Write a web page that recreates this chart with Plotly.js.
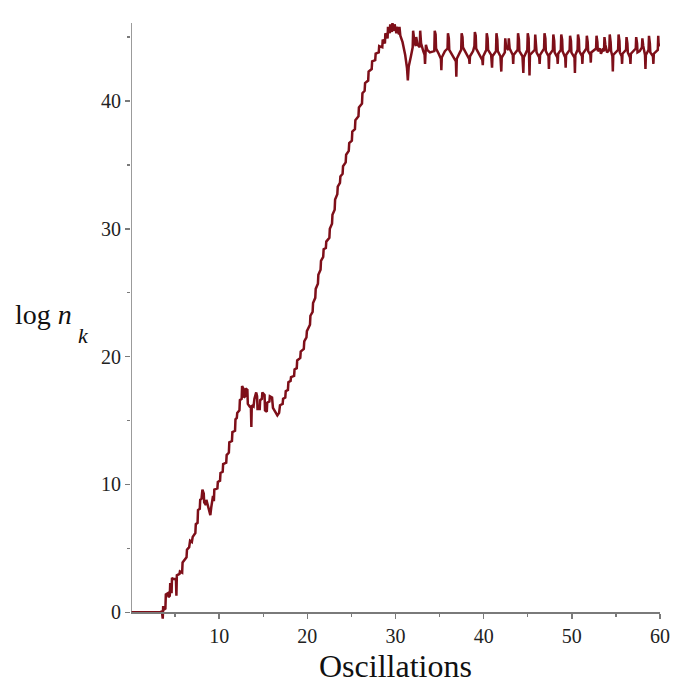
<!DOCTYPE html>
<html>
<head>
<meta charset="utf-8">
<script src="https://cdn.plot.ly/plotly-3.0.1.min.js"></script>
<style>html,body{margin:0;padding:0;background:#fff;}</style>
</head>
<body>
<div id="chart" style="width:679px;height:697px;"></div>
<script>
// Oscillation count (x) and log n_k (y)
const oscillations = [
0,3.4,3.5,3.6,3.65,3.7,3.9,3.95,4.2,4.25,4.4,4.45,4.6,4.65,4.8,5.0,5.1,5.15,5.2,5.5,5.55,5.8,5.85,6.1,
6.3,6.35,6.6,6.7,6.9,7.0,7.3,7.35,7.55,7.6,7.8,7.85,8.0,8.1,8.25,8.3,8.5,8.55,8.8,9.0,9.1,9.3,9.4,9.45,9.8,9.85,
10.1,10.15,10.4,10.45,10.8,10.85,11.1,11.15,11.45,11.5,11.8,11.85,12.0,12.05,12.3,12.35,12.55,12.6,12.75,12.8,12.95,13.0,
13.2,13.25,13.45,13.6,13.65,13.7,13.9,14.0,14.2,14.3,14.35,14.6,14.65,14.85,14.9,15.15,15.2,15.4,15.45,15.7,15.75,16.0,
16.1,16.4,16.6,16.8,16.9,17.2,17.25,17.5,17.55,17.8,17.85,18.1,18.15,18.5,18.55,18.8,18.85,19.2,19.25,19.6,19.65,19.9,
19.95,20.3,20.35,20.6,20.65,20.9,20.95,21.2,21.25,21.5,21.55,21.8,21.85,22.1,22.15,22.5,22.55,22.8,22.85,23.1,23.15,
23.4,23.45,23.7,23.75,24.0,24.05,24.35,24.4,24.7,24.75,25.05,25.1,25.4,25.45,25.8,25.85,26.2,26.25,26.5,26.55,26.9,
26.95,27.3,27.35,27.7,27.75,28.1,28.15,28.5,28.55,28.8,28.85,29.1,29.15,29.35,29.4,29.6,29.65,29.85,29.9,30.1,30.15,
30.4,30.45,30.55,30.8,31.1,31.3,31.4,31.5,31.75,31.95,32.0,32.15,32.3,32.35,32.5,32.75,32.8,32.9,33.15,33.3,33.35,
33.45,33.6,33.9,
34.4,34.45,34.55,34.6,34.9,35.15,35.2,35.25,35.6,35.9,35.95,36.05,36.1,36.5,36.85,36.9,36.95,37.3,37.45,37.5,37.6,
37.65,38.0,38.35,38.4,38.45,38.8,38.95,39.0,39.1,39.15,39.5,39.85,39.9,39.95,40.3,40.35,40.45,40.5,40.85,40.95,41.0,
41.4,41.45,41.55,41.6,41.9,42.0,42.05,42.4,42.45,42.55,42.8,42.85,42.95,43.3,43.35,43.4,43.85,43.9,44.0,44.05,44.4,
44.5,44.55,44.95,45.0,45.1,45.15,45.2,45.25,45.8,45.85,45.95,46.0,46.3,46.35,46.4,46.85,46.9,47.0,47.05,47.35,47.4,
47.45,47.85,47.9,48.0,48.05,48.35,48.4,48.45,48.75,48.8,48.9,48.95,49.25,49.3,49.35,49.75,49.8,49.9,49.95,50.3,50.35,
50.4,50.65,50.7,50.8,50.85,51.15,51.2,51.25,51.65,51.7,51.8,51.85,52.1,52.15,52.2,52.75,52.8,52.9,52.95,53.2,53.3,
53.5,53.65,53.7,53.8,54.0,54.25,54.3,54.4,54.45,54.6,54.65,54.7,55.25,55.3,55.4,55.45,55.65,55.7,55.75,56.15,56.2,
56.3,56.35,56.6,56.65,56.7,57.25,57.3,57.4,57.45,57.7,57.95,58.0,58.1,58.3,58.35,58.4,58.7,58.75,58.85,58.9,59.2,
59.25,59.3,59.75,59.8,59.85,60.0
];
const logNk = [
0,0,0.1,-0.5,0.5,0.2,0.3,1.4,1.5,1.2,1.3,2.3,1.5,2.7,2.6,2.6,2.5,1.3,2.9,3.0,3.2,3.1,3.9,4.1,
4.3,4.9,5.1,5.6,5.5,5.9,6.2,6.9,7.0,8.0,8.1,8.8,8.9,9.6,9.3,8.6,8.4,8.8,8.0,7.6,8.2,9.1,8.7,9.6,9.7,10.2,
10.3,10.9,11.0,11.6,11.7,12.3,12.5,13.3,13.4,14.1,14.2,15.1,15.2,15.6,15.8,16.6,16.7,17.7,17.5,16.8,16.9,17.5,
17.4,16.3,16.1,16.0,14.5,16.2,16.1,16.7,17.2,16.9,15.9,15.9,16.6,16.7,17.2,17.0,15.8,15.7,16.4,16.5,16.9,16.8,
16.0,15.6,15.4,15.6,16.2,16.3,16.7,16.8,17.3,17.4,18.0,18.1,18.4,18.5,19.0,19.1,19.7,19.9,20.4,20.6,21.2,21.5,
22.0,22.5,23.2,23.5,24.2,24.6,25.3,25.7,26.4,26.8,27.5,27.8,28.4,28.5,29.0,29.3,30.0,30.4,31.1,31.5,32.3,
32.7,33.3,33.6,34.1,34.3,34.9,35.2,35.8,36.1,36.7,36.9,37.6,37.8,38.5,38.8,39.5,39.8,40.6,40.8,41.4,41.6,
42.3,42.5,43.1,43.2,43.7,43.8,44.3,44.2,44.8,44.5,45.3,44.9,45.8,45.3,46.0,45.4,46.1,45.5,46.0,45.3,45.8,
45.2,45.8,45.1,44.6,43.6,42.6,41.6,42.7,43.5,44.2,45.5,44.6,44.3,45.0,44.4,44.2,45.5,44.5,43.9,43.6,42.9,
44.4,44.0,43.8,
43.9,45.5,45.2,44.1,43.7,43.3,42.4,43.4,43.9,44.1,45.3,44.9,44.0,43.5,43.1,41.9,43.3,43.8,44.0,45.3,45.0,
44.2,43.7,43.3,42.9,43.5,43.9,44.3,45.4,45.1,44.1,43.6,43.2,42.8,43.5,44.0,45.3,44.9,44.0,43.6,42.6,43.5,
43.9,45.3,44.8,43.9,43.5,42.3,43.4,43.8,44.9,44.2,44.0,44.9,44.1,43.6,42.9,43.6,44.0,45.3,44.8,43.9,43.5,
42.2,43.4,44.0,45.3,44.9,43.9,42.0,43.6,44.0,45.2,44.6,43.8,43.4,42.9,43.6,44.1,45.3,44.9,43.9,43.5,42.5,
43.6,44.0,45.2,44.7,43.8,43.4,42.9,43.7,44.0,45.2,44.8,43.9,43.4,42.6,43.6,44.0,45.1,44.7,43.8,43.4,42.2,
43.6,44.0,45.2,44.8,43.9,43.5,42.9,43.7,44.1,45.1,44.6,43.9,43.6,43.0,43.8,44.1,45.1,44.6,43.9,44.1,43.7,
44.0,43.9,45.0,44.4,43.8,44.0,45.2,44.6,43.9,43.5,42.3,43.6,44.0,45.2,44.7,43.8,43.5,42.9,43.7,44.0,45.0,
44.5,43.8,43.4,42.9,43.7,44.1,45.0,44.5,43.8,43.9,44.2,44.9,44.3,43.6,42.5,43.6,44.0,45.1,44.5,43.8,43.5,
42.9,43.7,44.0,45.1,44.3,44.5
];
const xTickVals = [10,20,30,40,50,60];
const xMinorVals = [5,15,25,35,45,55];
const yTickVals = [0,10,20,30,40];
const yMinorVals = [5,15,25,35,45];

const axisColor = '#7a7a7a';
const serif = 'Liberation Serif, Times New Roman, serif';

const trace = {
  x: oscillations, y: logNk, type: 'scatter', mode: 'lines',
  line: {color: '#7e0f19', width: 2.5}, hoverinfo: 'skip'
};

const yMin = -0.6, yMax = 46.1;
const layout = {
  width: 679, height: 697,
  margin: {l: 131, r: 19, t: 23, b: 77},
  paper_bgcolor: '#ffffff', plot_bgcolor: '#ffffff',
  showlegend: false,
  xaxis: {
    range: [0, 60], anchor: 'free', position: (0 - yMin) / (yMax - yMin),
    showline: true, linecolor: axisColor, linewidth: 1.5,
    showgrid: false, zeroline: false,
    tickmode: 'array', tickvals: xTickVals, ticktext: xTickVals.map(String),
    ticks: 'outside', ticklen: 5, tickwidth: 1.5, tickcolor: axisColor,
    minor: {tickmode: 'array', tickvals: xMinorVals, ticks: 'outside', ticklen: 3, tickwidth: 1.2, tickcolor: axisColor},
    tickfont: {family: serif, size: 20, color: '#222'}
  },
  yaxis: {
    range: [yMin, yMax],
    showline: false, showgrid: false, zeroline: false,
    tickmode: 'array', tickvals: yTickVals, ticktext: yTickVals.map(String),
    ticks: 'outside', ticklen: 5, tickwidth: 1.5, tickcolor: axisColor,
    minor: {tickmode: 'array', tickvals: yMinorVals, ticks: 'outside', ticklen: 3, tickwidth: 1.2, tickcolor: axisColor},
    tickfont: {family: serif, size: 20, color: '#222'}
  },
  shapes: [{
    type: 'line', xref: 'x', yref: 'y', x0: 0, x1: 0, y0: 0, y1: yMax,
    line: {color: axisColor, width: 1.5}
  }],
  annotations: [
    {text: 'Oscillations', xref: 'paper', yref: 'paper', x: 0.5, y: 0,
     xanchor: 'center', yanchor: 'middle', yshift: -46, showarrow: false,
     font: {family: serif, size: 32, color: '#111'}},
    {text: 'log <i>n</i>', xref: 'paper', yref: 'paper', x: (13 - 131) / 529, y: (620 - 314) / 597,
     xanchor: 'left', yanchor: 'middle', showarrow: false,
     font: {family: serif, size: 28, color: '#111'}},
    {text: '<i>k</i>', xref: 'paper', yref: 'paper', x: (76 - 131) / 529, y: (620 - 335) / 597,
     xanchor: 'left', yanchor: 'middle', showarrow: false,
     font: {family: serif, size: 22, color: '#111'}}
  ]
};

Plotly.newPlot('chart', [trace], layout, {displayModeBar: false, staticPlot: true});
</script>
</body>
</html>
